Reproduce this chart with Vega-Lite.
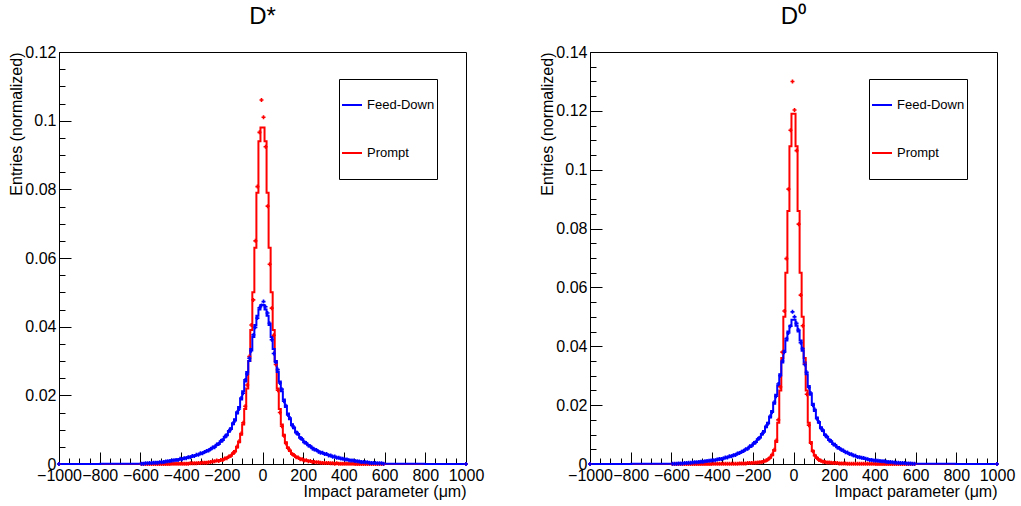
{
"$schema": "https://vega.github.io/schema/vega-lite/v6.json",
"padding": {"left": 8, "top": 4, "right": 5, "bottom": 5},
"config": {
  "font": "Liberation Sans",
  "view": {"stroke": "black", "strokeWidth": 1},
  "axis": {"labelFont": "Liberation Sans", "labelFontSize": 16, "labelColor": "black", "titleFont": "Liberation Sans", "titleFontSize": 16, "titleFontWeight": "normal", "titleColor": "black", "tickColor": "black", "tickWidth": 1, "domain": false, "grid": false},
  "legend": {"labelFont": "Liberation Sans", "labelFontSize": 13, "labelColor": "black"},
  "title": {"font": "Liberation Sans", "fontSize": 24, "fontWeight": "normal", "color": "black"}
},
"datasets": {
"dstar": [
{"x":-1000,"fd":0,"pr":0,"fdp":0,"prp":0},
{"x":-595,"fd":0.0001,"pr":0,"fdp":0.0001,"prp":0},
{"x":-585,"fd":0.0002,"pr":0,"fdp":0.0001,"prp":0},
{"x":-575,"fd":0.0002,"pr":0,"fdp":0.0002,"prp":0},
{"x":-565,"fd":0.0002,"pr":0,"fdp":0.0002,"prp":0},
{"x":-555,"fd":0.0003,"pr":0,"fdp":0.0003,"prp":0},
{"x":-545,"fd":0.0003,"pr":0,"fdp":0.0003,"prp":0},
{"x":-535,"fd":0.0004,"pr":0,"fdp":0.0004,"prp":0},
{"x":-525,"fd":0.0004,"pr":0,"fdp":0.0004,"prp":0},
{"x":-515,"fd":0.0005,"pr":0,"fdp":0.0004,"prp":0},
{"x":-505,"fd":0.0005,"pr":0,"fdp":0.0005,"prp":0},
{"x":-495,"fd":0.0006,"pr":0,"fdp":0.0005,"prp":0},
{"x":-485,"fd":0.0006,"pr":0,"fdp":0.0006,"prp":0},
{"x":-475,"fd":0.0007,"pr":0,"fdp":0.0007,"prp":0},
{"x":-465,"fd":0.0008,"pr":0,"fdp":0.0008,"prp":0},
{"x":-455,"fd":0.0009,"pr":0,"fdp":0.0009,"prp":0},
{"x":-445,"fd":0.0010,"pr":0.0001,"fdp":0.0010,"prp":0.0001},
{"x":-435,"fd":0.0011,"pr":0.0001,"fdp":0.0011,"prp":0.0001},
{"x":-425,"fd":0.0012,"pr":0.0001,"fdp":0.0012,"prp":0.0001},
{"x":-415,"fd":0.0013,"pr":0.0001,"fdp":0.0012,"prp":0.0001},
{"x":-405,"fd":0.0014,"pr":0.0001,"fdp":0.0015,"prp":0.0001},
{"x":-395,"fd":0.0015,"pr":0.0001,"fdp":0.0014,"prp":0.0001},
{"x":-385,"fd":0.0016,"pr":0.0001,"fdp":0.0017,"prp":0.0001},
{"x":-375,"fd":0.0018,"pr":0.0001,"fdp":0.0017,"prp":0.0001},
{"x":-365,"fd":0.0019,"pr":0.0002,"fdp":0.0020,"prp":0.0001},
{"x":-355,"fd":0.0021,"pr":0.0002,"fdp":0.0020,"prp":0.0002},
{"x":-345,"fd":0.0022,"pr":0.0002,"fdp":0.0023,"prp":0.0002},
{"x":-335,"fd":0.0024,"pr":0.0002,"fdp":0.0023,"prp":0.0002},
{"x":-325,"fd":0.0026,"pr":0.0003,"fdp":0.0027,"prp":0.0002},
{"x":-315,"fd":0.0028,"pr":0.0003,"fdp":0.0027,"prp":0.0003},
{"x":-305,"fd":0.0030,"pr":0.0003,"fdp":0.0031,"prp":0.0003},
{"x":-295,"fd":0.0032,"pr":0.0004,"fdp":0.0031,"prp":0.0004},
{"x":-285,"fd":0.0034,"pr":0.0004,"fdp":0.0035,"prp":0.0004},
{"x":-275,"fd":0.0037,"pr":0.0005,"fdp":0.0038,"prp":0.0004},
{"x":-265,"fd":0.0040,"pr":0.0005,"fdp":0.0039,"prp":0.0005},
{"x":-255,"fd":0.0043,"pr":0.0006,"fdp":0.0044,"prp":0.0006},
{"x":-245,"fd":0.0047,"pr":0.0007,"fdp":0.0048,"prp":0.0007},
{"x":-235,"fd":0.0051,"pr":0.0008,"fdp":0.0049,"prp":0.0008},
{"x":-225,"fd":0.0055,"pr":0.0009,"fdp":0.0057,"prp":0.0010},
{"x":-215,"fd":0.0060,"pr":0.0010,"fdp":0.0058,"prp":0.0009},
{"x":-205,"fd":0.0065,"pr":0.0011,"fdp":0.0067,"prp":0.0012},
{"x":-195,"fd":0.0071,"pr":0.0013,"fdp":0.0069,"prp":0.0012},
{"x":-185,"fd":0.0078,"pr":0.0015,"fdp":0.0080,"prp":0.0016},
{"x":-175,"fd":0.0086,"pr":0.0018,"fdp":0.0083,"prp":0.0017},
{"x":-165,"fd":0.0094,"pr":0.0021,"fdp":0.0097,"prp":0.0022},
{"x":-155,"fd":0.0104,"pr":0.0025,"fdp":0.0101,"prp":0.0024},
{"x":-145,"fd":0.0116,"pr":0.0030,"fdp":0.0119,"prp":0.0032},
{"x":-135,"fd":0.0130,"pr":0.0038,"fdp":0.0126,"prp":0.0036},
{"x":-125,"fd":0.0147,"pr":0.0048,"fdp":0.0151,"prp":0.0051},
{"x":-115,"fd":0.0166,"pr":0.0063,"fdp":0.0160,"prp":0.0066},
{"x":-105,"fd":0.0188,"pr":0.0085,"fdp":0.0192,"prp":0.0089},
{"x":-95,"fd":0.0212,"pr":0.0115,"fdp":0.0206,"prp":0.0120},
{"x":-85,"fd":0.0240,"pr":0.016,"fdp":0.0245,"prp":0.0168},
{"x":-75,"fd":0.0268,"pr":0.022,"fdp":0.0262,"prp":0.0230},
{"x":-65,"fd":0.0300,"pr":0.030,"fdp":0.0308,"prp":0.0313},
{"x":-55,"fd":0.0335,"pr":0.039,"fdp":0.0330,"prp":0.0405},
{"x":-45,"fd":0.0370,"pr":0.050,"fdp":0.0376,"prp":0.0478},
{"x":-35,"fd":0.0405,"pr":0.063,"fdp":0.0398,"prp":0.0650},
{"x":-25,"fd":0.0432,"pr":0.079,"fdp":0.0425,"prp":0.0808},
{"x":-15,"fd":0.0450,"pr":0.094,"fdp":0.0455,"prp":0.0966},
{"x":-5,"fd":0.0463,"pr":0.098,"fdp":0.0462,"prp":0.106},
{"x":5,"fd":0.0463,"pr":0.098,"fdp":0.0473,"prp":0.101},
{"x":15,"fd":0.0450,"pr":0.094,"fdp":0.0458,"prp":0.0924},
{"x":25,"fd":0.0432,"pr":0.079,"fdp":0.0440,"prp":0.0751},
{"x":35,"fd":0.0405,"pr":0.063,"fdp":0.0410,"prp":0.0582},
{"x":45,"fd":0.0370,"pr":0.050,"fdp":0.0362,"prp":0.0454},
{"x":55,"fd":0.0335,"pr":0.039,"fdp":0.0322,"prp":0.0375},
{"x":65,"fd":0.0300,"pr":0.030,"fdp":0.0296,"prp":0.0290},
{"x":75,"fd":0.0268,"pr":0.022,"fdp":0.0275,"prp":0.0215},
{"x":85,"fd":0.0240,"pr":0.016,"fdp":0.0236,"prp":0.0150},
{"x":95,"fd":0.0212,"pr":0.0115,"fdp":0.0218,"prp":0.0110},
{"x":105,"fd":0.0188,"pr":0.0085,"fdp":0.0183,"prp":0.0082},
{"x":115,"fd":0.0166,"pr":0.0063,"fdp":0.0170,"prp":0.0060},
{"x":125,"fd":0.0147,"pr":0.0048,"fdp":0.0143,"prp":0.0046},
{"x":135,"fd":0.0130,"pr":0.0038,"fdp":0.0134,"prp":0.0040},
{"x":145,"fd":0.0116,"pr":0.0030,"fdp":0.0112,"prp":0.0029},
{"x":155,"fd":0.0104,"pr":0.0025,"fdp":0.0107,"prp":0.0026},
{"x":165,"fd":0.0094,"pr":0.0021,"fdp":0.0091,"prp":0.0020},
{"x":175,"fd":0.0086,"pr":0.0018,"fdp":0.0088,"prp":0.0019},
{"x":185,"fd":0.0078,"pr":0.0015,"fdp":0.0076,"prp":0.0014},
{"x":195,"fd":0.0071,"pr":0.0013,"fdp":0.0073,"prp":0.0014},
{"x":205,"fd":0.0065,"pr":0.0011,"fdp":0.0063,"prp":0.0010},
{"x":215,"fd":0.0060,"pr":0.0010,"fdp":0.0061,"prp":0.0011},
{"x":225,"fd":0.0055,"pr":0.0009,"fdp":0.0054,"prp":0.0008},
{"x":235,"fd":0.0051,"pr":0.0008,"fdp":0.0052,"prp":0.0009},
{"x":245,"fd":0.0047,"pr":0.0007,"fdp":0.0045,"prp":0.0006},
{"x":255,"fd":0.0043,"pr":0.0006,"fdp":0.0042,"prp":0.0006},
{"x":265,"fd":0.0040,"pr":0.0005,"fdp":0.0041,"prp":0.0005},
{"x":275,"fd":0.0037,"pr":0.0005,"fdp":0.0036,"prp":0.0005},
{"x":285,"fd":0.0034,"pr":0.0004,"fdp":0.0033,"prp":0.0004},
{"x":295,"fd":0.0032,"pr":0.0004,"fdp":0.0033,"prp":0.0003},
{"x":305,"fd":0.0030,"pr":0.0003,"fdp":0.0029,"prp":0.0003},
{"x":315,"fd":0.0028,"pr":0.0003,"fdp":0.0029,"prp":0.0003},
{"x":325,"fd":0.0026,"pr":0.0003,"fdp":0.0025,"prp":0.0003},
{"x":335,"fd":0.0024,"pr":0.0002,"fdp":0.0025,"prp":0.0002},
{"x":345,"fd":0.0022,"pr":0.0002,"fdp":0.0021,"prp":0.0002},
{"x":355,"fd":0.0021,"pr":0.0002,"fdp":0.0022,"prp":0.0001},
{"x":365,"fd":0.0019,"pr":0.0002,"fdp":0.0018,"prp":0.0002},
{"x":375,"fd":0.0018,"pr":0.0001,"fdp":0.0018,"prp":0.0001},
{"x":385,"fd":0.0016,"pr":0.0001,"fdp":0.0016,"prp":0.0001},
{"x":395,"fd":0.0015,"pr":0.0001,"fdp":0.0015,"prp":0.0001},
{"x":405,"fd":0.0014,"pr":0.0001,"fdp":0.0013,"prp":0.0001},
{"x":415,"fd":0.0013,"pr":0.0001,"fdp":0.0013,"prp":0.0001},
{"x":425,"fd":0.0012,"pr":0.0001,"fdp":0.0011,"prp":0.0001},
{"x":435,"fd":0.0011,"pr":0.0001,"fdp":0.0010,"prp":0.0001},
{"x":445,"fd":0.0010,"pr":0.0001,"fdp":0.0010,"prp":0.0001},
{"x":455,"fd":0.0009,"pr":0,"fdp":0.0009,"prp":0},
{"x":465,"fd":0.0008,"pr":0,"fdp":0.0008,"prp":0},
{"x":475,"fd":0.0007,"pr":0,"fdp":0.0007,"prp":0},
{"x":485,"fd":0.0006,"pr":0,"fdp":0.0006,"prp":0},
{"x":495,"fd":0.0006,"pr":0,"fdp":0.0006,"prp":0},
{"x":505,"fd":0.0005,"pr":0,"fdp":0.0005,"prp":0},
{"x":515,"fd":0.0005,"pr":0,"fdp":0.0005,"prp":0},
{"x":525,"fd":0.0004,"pr":0,"fdp":0.0004,"prp":0},
{"x":535,"fd":0.0004,"pr":0,"fdp":0.0003,"prp":0},
{"x":545,"fd":0.0003,"pr":0,"fdp":0.0003,"prp":0},
{"x":555,"fd":0.0003,"pr":0,"fdp":0.0003,"prp":0},
{"x":565,"fd":0.0002,"pr":0,"fdp":0.0002,"prp":0},
{"x":575,"fd":0.0002,"pr":0,"fdp":0.0002,"prp":0},
{"x":585,"fd":0.0002,"pr":0,"fdp":0.0002,"prp":0},
{"x":595,"fd":0.0001,"pr":0,"fdp":0.0001,"prp":0},
{"x":1000,"fd":0,"pr":0,"fdp":0,"prp":0}
],
"d0": [
{"x":-1000,"fd":0,"pr":0,"fdp":0,"prp":0},
{"x":-595,"fd":0.0001,"pr":0,"fdp":0.0001,"prp":0},
{"x":-585,"fd":0.0001,"pr":0,"fdp":0.0001,"prp":0},
{"x":-575,"fd":0.0002,"pr":0,"fdp":0.0001,"prp":0},
{"x":-565,"fd":0.0002,"pr":0,"fdp":0.0002,"prp":0},
{"x":-555,"fd":0.0002,"pr":0,"fdp":0.0002,"prp":0},
{"x":-545,"fd":0.0003,"pr":0,"fdp":0.0002,"prp":0},
{"x":-535,"fd":0.0003,"pr":0,"fdp":0.0003,"prp":0},
{"x":-525,"fd":0.0003,"pr":0,"fdp":0.0003,"prp":0},
{"x":-515,"fd":0.0004,"pr":0,"fdp":0.0004,"prp":0},
{"x":-505,"fd":0.0004,"pr":0,"fdp":0.0004,"prp":0},
{"x":-495,"fd":0.0005,"pr":0,"fdp":0.0005,"prp":0},
{"x":-485,"fd":0.0006,"pr":0,"fdp":0.0006,"prp":0},
{"x":-475,"fd":0.0007,"pr":0,"fdp":0.0006,"prp":0},
{"x":-465,"fd":0.0007,"pr":0,"fdp":0.0007,"prp":0},
{"x":-455,"fd":0.0008,"pr":0,"fdp":0.0008,"prp":0},
{"x":-445,"fd":0.0009,"pr":0,"fdp":0.0008,"prp":0},
{"x":-435,"fd":0.0009,"pr":0,"fdp":0.0009,"prp":0},
{"x":-425,"fd":0.0010,"pr":0,"fdp":0.0010,"prp":0},
{"x":-415,"fd":0.0011,"pr":0,"fdp":0.0011,"prp":0},
{"x":-405,"fd":0.0012,"pr":0,"fdp":0.0012,"prp":0},
{"x":-395,"fd":0.0013,"pr":0.0001,"fdp":0.0013,"prp":0.0001},
{"x":-385,"fd":0.0014,"pr":0.0001,"fdp":0.0013,"prp":0.0001},
{"x":-375,"fd":0.0015,"pr":0.0001,"fdp":0.0015,"prp":0.0001},
{"x":-365,"fd":0.0016,"pr":0.0001,"fdp":0.0017,"prp":0.0001},
{"x":-355,"fd":0.0018,"pr":0.0001,"fdp":0.0017,"prp":0.0001},
{"x":-345,"fd":0.0019,"pr":0.0001,"fdp":0.0019,"prp":0.0001},
{"x":-335,"fd":0.0021,"pr":0.0001,"fdp":0.0022,"prp":0.0001},
{"x":-325,"fd":0.0023,"pr":0.0001,"fdp":0.0022,"prp":0.0001},
{"x":-315,"fd":0.0025,"pr":0.0001,"fdp":0.0026,"prp":0.0001},
{"x":-305,"fd":0.0027,"pr":0.0001,"fdp":0.0026,"prp":0.0001},
{"x":-295,"fd":0.0029,"pr":0.0001,"fdp":0.0030,"prp":0.0001},
{"x":-285,"fd":0.0032,"pr":0.0001,"fdp":0.0031,"prp":0.0001},
{"x":-275,"fd":0.0035,"pr":0.0001,"fdp":0.0036,"prp":0.0001},
{"x":-265,"fd":0.0038,"pr":0.0002,"fdp":0.0037,"prp":0.0002},
{"x":-255,"fd":0.0041,"pr":0.0002,"fdp":0.0042,"prp":0.0002},
{"x":-245,"fd":0.0045,"pr":0.0002,"fdp":0.0044,"prp":0.0002},
{"x":-235,"fd":0.0049,"pr":0.0002,"fdp":0.0050,"prp":0.0002},
{"x":-225,"fd":0.0053,"pr":0.0003,"fdp":0.0052,"prp":0.0003},
{"x":-215,"fd":0.0058,"pr":0.0003,"fdp":0.0060,"prp":0.0003},
{"x":-205,"fd":0.0063,"pr":0.0003,"fdp":0.0062,"prp":0.0003},
{"x":-195,"fd":0.0069,"pr":0.0004,"fdp":0.0071,"prp":0.0004},
{"x":-185,"fd":0.0076,"pr":0.0004,"fdp":0.0074,"prp":0.0004},
{"x":-175,"fd":0.0083,"pr":0.0005,"fdp":0.0085,"prp":0.0005},
{"x":-165,"fd":0.0091,"pr":0.0006,"fdp":0.0089,"prp":0.0006},
{"x":-155,"fd":0.0100,"pr":0.0007,"fdp":0.0103,"prp":0.0007},
{"x":-145,"fd":0.0112,"pr":0.0009,"fdp":0.0109,"prp":0.0009},
{"x":-135,"fd":0.0125,"pr":0.0011,"fdp":0.0128,"prp":0.0012},
{"x":-125,"fd":0.0140,"pr":0.0015,"fdp":0.0137,"prp":0.0016},
{"x":-115,"fd":0.0158,"pr":0.0021,"fdp":0.0162,"prp":0.0022},
{"x":-105,"fd":0.0180,"pr":0.0030,"fdp":0.0176,"prp":0.0032},
{"x":-95,"fd":0.0205,"pr":0.0045,"fdp":0.0210,"prp":0.0048},
{"x":-85,"fd":0.0235,"pr":0.0075,"fdp":0.0230,"prp":0.0080},
{"x":-75,"fd":0.0265,"pr":0.014,"fdp":0.0272,"prp":0.0150},
{"x":-65,"fd":0.0305,"pr":0.025,"fdp":0.0300,"prp":0.0262},
{"x":-55,"fd":0.0345,"pr":0.036,"fdp":0.0350,"prp":0.0380},
{"x":-45,"fd":0.0385,"pr":0.050,"fdp":0.0380,"prp":0.0520},
{"x":-35,"fd":0.0420,"pr":0.065,"fdp":0.0426,"prp":0.0698},
{"x":-25,"fd":0.0450,"pr":0.086,"fdp":0.0445,"prp":0.0934},
{"x":-15,"fd":0.0470,"pr":0.108,"fdp":0.0468,"prp":0.1134},
{"x":-5,"fd":0.0490,"pr":0.119,"fdp":0.0517,"prp":0.130},
{"x":5,"fd":0.0490,"pr":0.119,"fdp":0.0500,"prp":0.1203},
{"x":15,"fd":0.0470,"pr":0.108,"fdp":0.0478,"prp":0.1065},
{"x":25,"fd":0.0450,"pr":0.086,"fdp":0.0455,"prp":0.0815},
{"x":35,"fd":0.0420,"pr":0.065,"fdp":0.0412,"prp":0.0574},
{"x":45,"fd":0.0385,"pr":0.050,"fdp":0.0392,"prp":0.0470},
{"x":55,"fd":0.0345,"pr":0.036,"fdp":0.0338,"prp":0.0340},
{"x":65,"fd":0.0305,"pr":0.025,"fdp":0.0312,"prp":0.0237},
{"x":75,"fd":0.0265,"pr":0.014,"fdp":0.0260,"prp":0.0132},
{"x":85,"fd":0.0235,"pr":0.0075,"fdp":0.0241,"prp":0.0071},
{"x":95,"fd":0.0205,"pr":0.0045,"fdp":0.0200,"prp":0.0043},
{"x":105,"fd":0.0180,"pr":0.0030,"fdp":0.0185,"prp":0.0028},
{"x":115,"fd":0.0158,"pr":0.0021,"fdp":0.0154,"prp":0.0020},
{"x":125,"fd":0.0140,"pr":0.0015,"fdp":0.0143,"prp":0.0014},
{"x":135,"fd":0.0125,"pr":0.0011,"fdp":0.0121,"prp":0.0011},
{"x":145,"fd":0.0112,"pr":0.0009,"fdp":0.0115,"prp":0.0008},
{"x":155,"fd":0.0100,"pr":0.0007,"fdp":0.0098,"prp":0.0007},
{"x":165,"fd":0.0091,"pr":0.0006,"fdp":0.0093,"prp":0.0005},
{"x":175,"fd":0.0083,"pr":0.0005,"fdp":0.0081,"prp":0.0005},
{"x":185,"fd":0.0076,"pr":0.0004,"fdp":0.0078,"prp":0.0004},
{"x":195,"fd":0.0069,"pr":0.0004,"fdp":0.0067,"prp":0.0003},
{"x":205,"fd":0.0063,"pr":0.0003,"fdp":0.0065,"prp":0.0003},
{"x":215,"fd":0.0058,"pr":0.0003,"fdp":0.0056,"prp":0.0003},
{"x":225,"fd":0.0053,"pr":0.0003,"fdp":0.0054,"prp":0.0002},
{"x":235,"fd":0.0049,"pr":0.0002,"fdp":0.0048,"prp":0.0002},
{"x":245,"fd":0.0045,"pr":0.0002,"fdp":0.0046,"prp":0.0002},
{"x":255,"fd":0.0041,"pr":0.0002,"fdp":0.0040,"prp":0.0002},
{"x":265,"fd":0.0038,"pr":0.0002,"fdp":0.0039,"prp":0.0001},
{"x":275,"fd":0.0035,"pr":0.0001,"fdp":0.0034,"prp":0.0001},
{"x":285,"fd":0.0032,"pr":0.0001,"fdp":0.0033,"prp":0.0001},
{"x":295,"fd":0.0029,"pr":0.0001,"fdp":0.0029,"prp":0.0001},
{"x":305,"fd":0.0027,"pr":0.0001,"fdp":0.0028,"prp":0.0001},
{"x":315,"fd":0.0025,"pr":0.0001,"fdp":0.0024,"prp":0.0001},
{"x":325,"fd":0.0023,"pr":0.0001,"fdp":0.0023,"prp":0.0001},
{"x":335,"fd":0.0021,"pr":0.0001,"fdp":0.0021,"prp":0.0001},
{"x":345,"fd":0.0019,"pr":0.0001,"fdp":0.0020,"prp":0.0001},
{"x":355,"fd":0.0018,"pr":0.0001,"fdp":0.0018,"prp":0.0001},
{"x":365,"fd":0.0016,"pr":0.0001,"fdp":0.0016,"prp":0.0001},
{"x":375,"fd":0.0015,"pr":0.0001,"fdp":0.0014,"prp":0.0001},
{"x":385,"fd":0.0014,"pr":0.0001,"fdp":0.0014,"prp":0.0001},
{"x":395,"fd":0.0013,"pr":0.0001,"fdp":0.0012,"prp":0.0001},
{"x":405,"fd":0.0012,"pr":0,"fdp":0.0012,"prp":0},
{"x":415,"fd":0.0011,"pr":0,"fdp":0.0011,"prp":0},
{"x":425,"fd":0.0010,"pr":0,"fdp":0.0010,"prp":0},
{"x":435,"fd":0.0009,"pr":0,"fdp":0.0009,"prp":0},
{"x":445,"fd":0.0009,"pr":0,"fdp":0.0009,"prp":0},
{"x":455,"fd":0.0008,"pr":0,"fdp":0.0008,"prp":0},
{"x":465,"fd":0.0007,"pr":0,"fdp":0.0007,"prp":0},
{"x":475,"fd":0.0007,"pr":0,"fdp":0.0007,"prp":0},
{"x":485,"fd":0.0006,"pr":0,"fdp":0.0006,"prp":0},
{"x":495,"fd":0.0005,"pr":0,"fdp":0.0005,"prp":0},
{"x":505,"fd":0.0004,"pr":0,"fdp":0.0004,"prp":0},
{"x":515,"fd":0.0004,"pr":0,"fdp":0.0004,"prp":0},
{"x":525,"fd":0.0003,"pr":0,"fdp":0.0003,"prp":0},
{"x":535,"fd":0.0003,"pr":0,"fdp":0.0003,"prp":0},
{"x":545,"fd":0.0003,"pr":0,"fdp":0.0003,"prp":0},
{"x":555,"fd":0.0002,"pr":0,"fdp":0.0002,"prp":0},
{"x":565,"fd":0.0002,"pr":0,"fdp":0.0002,"prp":0},
{"x":575,"fd":0.0002,"pr":0,"fdp":0.0002,"prp":0},
{"x":585,"fd":0.0001,"pr":0,"fdp":0.0001,"prp":0},
{"x":595,"fd":0.0001,"pr":0,"fdp":0.0001,"prp":0},
{"x":1000,"fd":0,"pr":0,"fdp":0,"prp":0}
]
},
"bounds": "flush",
"spacing": 124,
"resolve": {"scale": {"color": "independent"}, "legend": {"color": "independent"}},
"hconcat": [
{
  "title": {"text": "D*", "anchor": "middle", "frame": "group", "offset": 15},
  "width": 407, "height": 412,
  "data": {"name": "dstar"},
  "resolve": {"axis": {"x": "independent", "y": "independent"}},
  "layer": [
    {"mark": {"type": "line", "interpolate": "step", "strokeWidth": 2},
     "encoding": {
       "x": {"field": "x", "type": "quantitative", "scale": {"domain": [-1000, 1000], "nice": false, "zero": false},
             "axis": {"orient": "bottom", "values": [-1000,-800,-600,-400,-200,0,200,400,600,800,1000], "format": "d", "title": "Impact parameter (μm)", "titleAnchor": "end", "titlePadding": 0, "tickSize": -12, "labelPadding": 15, "labelFlush": false, "labelOverlap": false, "labelBound": false}},
       "y": {"field": "pr", "type": "quantitative", "scale": {"domain": [0, 0.12], "nice": false},
             "axis": {"orient": "left", "values": [0,0.02,0.04,0.06,0.08,0.1,0.12], "format": ".2~f", "title": "Entries (normalized)", "titleAnchor": "end", "titlePadding": 0, "tickSize": -12, "labelPadding": 15, "labelOverlap": false, "labelFlush": false, "labelBound": false}},
       "color": {"datum": "Prompt", "type": "nominal", "scale": {"domain": ["Feed-Down", "Prompt"], "range": ["#0000ff", "#ff0000"]},
                 "legend": {"orient": "none", "legendX": 280, "legendY": 27, "title": null, "symbolType": "stroke", "symbolStrokeWidth": 2, "symbolSize": 400, "labelOffset": 4, "strokeColor": "black", "fillColor": "white", "padding": 2, "clipHeight": 48, "rowPadding": 0}}
     }},
    {"mark": {"type": "line", "interpolate": "step", "strokeWidth": 2},
     "encoding": {
       "x": {"field": "x", "type": "quantitative",
             "axis": {"orient": "bottom", "values": [-1000,-950,-900,-850,-800,-750,-700,-650,-600,-550,-500,-450,-400,-350,-300,-250,-200,-150,-100,-50,0,50,100,150,200,250,300,350,400,450,500,550,600,650,700,750,800,850,900,950,1000], "labels": false, "title": null, "tickSize": -6}},
       "y": {"field": "fd", "type": "quantitative",
             "axis": {"orient": "left", "values": [0,0.005,0.01,0.015,0.02,0.025,0.03,0.035,0.04,0.045,0.05,0.055,0.06,0.065,0.07,0.075,0.08,0.085,0.09,0.095,0.1,0.105,0.11,0.115,0.12], "labels": false, "title": null, "tickSize": -6}},
       "color": {"datum": "Feed-Down", "type": "nominal"}
     }},
    {"mark": {"type": "point", "shape": "cross", "filled": true, "size": 16, "color": "#ff0000", "opacity": 1},
     "encoding": {
       "x": {"field": "x", "type": "quantitative", "axis": null},
       "y": {"field": "prp", "type": "quantitative", "axis": null}
     }},
    {"mark": {"type": "point", "shape": "cross", "filled": true, "size": 16, "color": "#0000ff", "opacity": 1},
     "encoding": {
       "x": {"field": "x", "type": "quantitative", "axis": null},
       "y": {"field": "fdp", "type": "quantitative", "axis": null}
     }}
  ]
},
{
  "title": {"text": "D⁰", "anchor": "middle", "frame": "group", "offset": 15},
  "width": 407, "height": 412,
  "data": {"name": "d0"},
  "resolve": {"axis": {"x": "independent", "y": "independent"}},
  "layer": [
    {"mark": {"type": "line", "interpolate": "step", "strokeWidth": 2},
     "encoding": {
       "x": {"field": "x", "type": "quantitative", "scale": {"domain": [-1000, 1000], "nice": false, "zero": false},
             "axis": {"orient": "bottom", "values": [-1000,-800,-600,-400,-200,0,200,400,600,800,1000], "format": "d", "title": "Impact parameter (μm)", "titleAnchor": "end", "titlePadding": 0, "tickSize": -12, "labelPadding": 15, "labelFlush": false, "labelOverlap": false, "labelBound": false}},
       "y": {"field": "pr", "type": "quantitative", "scale": {"domain": [0, 0.14], "nice": false},
             "axis": {"orient": "left", "values": [0,0.02,0.04,0.06,0.08,0.1,0.12,0.14], "format": ".2~f", "title": "Entries (normalized)", "titleAnchor": "end", "titlePadding": 0, "tickSize": -12, "labelPadding": 15, "labelOverlap": false, "labelFlush": false, "labelBound": false}},
       "color": {"datum": "Prompt", "type": "nominal", "scale": {"domain": ["Feed-Down", "Prompt"], "range": ["#0000ff", "#ff0000"]},
                 "legend": {"orient": "none", "legendX": 279, "legendY": 27, "title": null, "symbolType": "stroke", "symbolStrokeWidth": 2, "symbolSize": 400, "labelOffset": 4, "strokeColor": "black", "fillColor": "white", "padding": 2, "clipHeight": 48, "rowPadding": 0}}
     }},
    {"mark": {"type": "line", "interpolate": "step", "strokeWidth": 2},
     "encoding": {
       "x": {"field": "x", "type": "quantitative",
             "axis": {"orient": "bottom", "values": [-1000,-950,-900,-850,-800,-750,-700,-650,-600,-550,-500,-450,-400,-350,-300,-250,-200,-150,-100,-50,0,50,100,150,200,250,300,350,400,450,500,550,600,650,700,750,800,850,900,950,1000], "labels": false, "title": null, "tickSize": -6}},
       "y": {"field": "fd", "type": "quantitative",
             "axis": {"orient": "left", "values": [0,0.005,0.01,0.015,0.02,0.025,0.03,0.035,0.04,0.045,0.05,0.055,0.06,0.065,0.07,0.075,0.08,0.085,0.09,0.095,0.1,0.105,0.11,0.115,0.12,0.125,0.13,0.135,0.14], "labels": false, "title": null, "tickSize": -6}},
       "color": {"datum": "Feed-Down", "type": "nominal"}
     }},
    {"mark": {"type": "point", "shape": "cross", "filled": true, "size": 16, "color": "#ff0000", "opacity": 1},
     "encoding": {
       "x": {"field": "x", "type": "quantitative", "axis": null},
       "y": {"field": "prp", "type": "quantitative", "axis": null}
     }},
    {"mark": {"type": "point", "shape": "cross", "filled": true, "size": 16, "color": "#0000ff", "opacity": 1},
     "encoding": {
       "x": {"field": "x", "type": "quantitative", "axis": null},
       "y": {"field": "fdp", "type": "quantitative", "axis": null}
     }}
  ]
}
]
}
